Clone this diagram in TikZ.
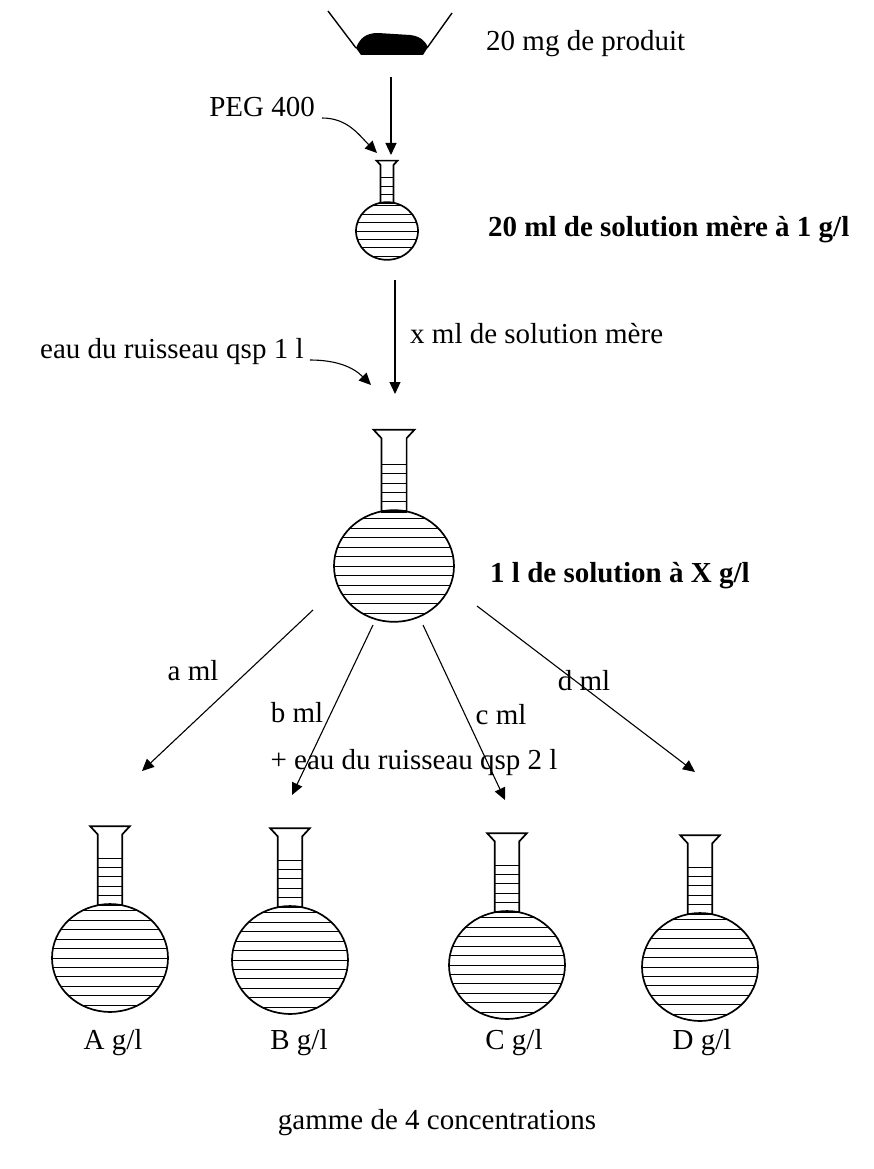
\documentclass[tikz,border=0pt]{standalone}
\usepackage{fontspec}
\setmainfont{Liberation Serif}
\usetikzlibrary{arrows.meta}

\tikzset{
  verre/.style={line width=1.7pt},
  hachure/.style={line width=0.9pt},
  fleche/.style={line width=1.1pt, -{Triangle[length=12pt,width=11pt]}},
  texte/.style={font=\fontsize{29}{32}\selectfont, inner sep=0pt},
  gras/.style={texte, font=\fontsize{29}{32}\selectfont\bfseries},
  % ballon: bulb of radius 1, #1 = spacing of the graduations
  pics/ballon/.style={code={
    \begin{scope}
      \clip (0,0) ellipse (1 and 0.93);
      \foreach \k in {-6,...,6}
        \draw[hachure] (-1,\k*#1) -- (1,\k*#1);
    \end{scope}
    \begin{scope}
      \clip (-0.21,-0.91) rectangle (0.21,-1.8);
      \foreach \k in {1,...,6}
        \draw[hachure] (-0.21,-0.91-\k*#1) -- (0.21,-0.91-\k*#1);
    \end{scope}
    \draw[verre] (-0.21,-0.91) -- (-0.21,-2.13) -- (-0.34,-2.27)
      -- (0.34,-2.27) -- (0.21,-2.13) -- (0.21,-0.91);
    \draw[verre] (0,0) ellipse (1 and 0.93);
    \draw[line width=2.2pt] (-0.21,-0.91) -- (0.21,-0.91);
  }}
}

\begin{document}
\begin{tikzpicture}[x=1pt, y=-1pt]
  \useasboundingbox (0,0) rectangle (874,1169);

  % coupelle avec le produit
  \draw[line width=1.4pt] (328,11) -- (356,48);
  \draw[line width=1.4pt] (452,13) -- (427,48);
  \fill (356,48) .. controls (360,38) and (366,33) .. (378,33)
    -- (410,35) .. controls (420,36) and (425,41) .. (428,47)
    -- (423,55) -- (361,55) -- cycle;
  \node[texte, anchor=west] (produit) at (486,44) {20 mg de produit};

  % solution mere
  \coordinate (coupelle) at (391,77);
  \coordinate (mere-haut) at (391,155);
  \draw[fleche] (coupelle) -- (mere-haut);
  \node[texte, anchor=east] (peg) at (315,107) {PEG 400};
  \coordinate (peg-fin) at (377,153);
  \draw[fleche] ([xshift=7pt,yshift=-11pt]peg.east) to[out=0, in=135] (peg-fin);

  \pic[scale=31] at (387,231) {ballon=0.27};
  \node[gras, anchor=west] (mere) at (488,230) {20 ml de solution mère à 1 g/l};

  % dilution dans 1 l
  \coordinate (mere-bas) at (395,280);
  \coordinate (litre-haut) at (395,394);
  \draw[fleche] (mere-bas) -- (litre-haut);
  \node[texte, anchor=west] (prise) at (410,334) {x ml de solution mère};
  \node[texte, anchor=west] (eau1) at (40,352) {eau du ruisseau qsp 1 l};
  \coordinate (eau1-fin) at (371,385);
  \draw[fleche] ([xshift=6pt,yshift=-8pt]eau1.east) to[out=0, in=135] (eau1-fin);

  \pic[scale=60] at (394,566) {ballon=0.158};
  \node[gras, anchor=west] (litre) at (490,576) {1 l de solution à X g/l};

  % prises a, b, c, d
  \coordinate (depart-a) at (313,610);
  \coordinate (depart-b) at (373,625);
  \coordinate (depart-c) at (423,625);
  \coordinate (depart-d) at (477,606);
  \coordinate (arrivee-a) at (142,771);
  \coordinate (arrivee-b) at (292,795);
  \coordinate (arrivee-c) at (505,800);
  \coordinate (arrivee-d) at (695,772);
  \draw[fleche] (depart-a) -- (arrivee-a);
  \draw[fleche] (depart-b) -- (arrivee-b);
  \draw[fleche] (depart-c) -- (arrivee-c);
  \draw[fleche] (depart-d) -- (arrivee-d);
  \node[texte] (a) at (193,671) {a ml};
  \node[texte] (b) at (297,713) {b ml};
  \node[texte] (c) at (501,715) {c ml};
  \node[texte] (d) at (584,681) {d ml};
  \node[texte] (eau2) at (414,763) {+ eau du ruisseau qsp 2 l};

  % gamme
  \pic[scale=58] at (110,958) {ballon=0.163};
  \pic[scale=58] at (290,960) {ballon=0.163};
  \pic[scale=58] at (507,965) {ballon=0.163};
  \pic[scale=58] at (700,967) {ballon=0.163};
  \node[texte] (A) at (113,1043) {A g/l};
  \node[texte] (B) at (299,1043) {B g/l};
  \node[texte] (C) at (514,1043) {C g/l};
  \node[texte] (D) at (702,1043) {D g/l};
  \node[texte] (gamme) at (437,1123) {gamme de 4 concentrations};
\end{tikzpicture}
\end{document}
